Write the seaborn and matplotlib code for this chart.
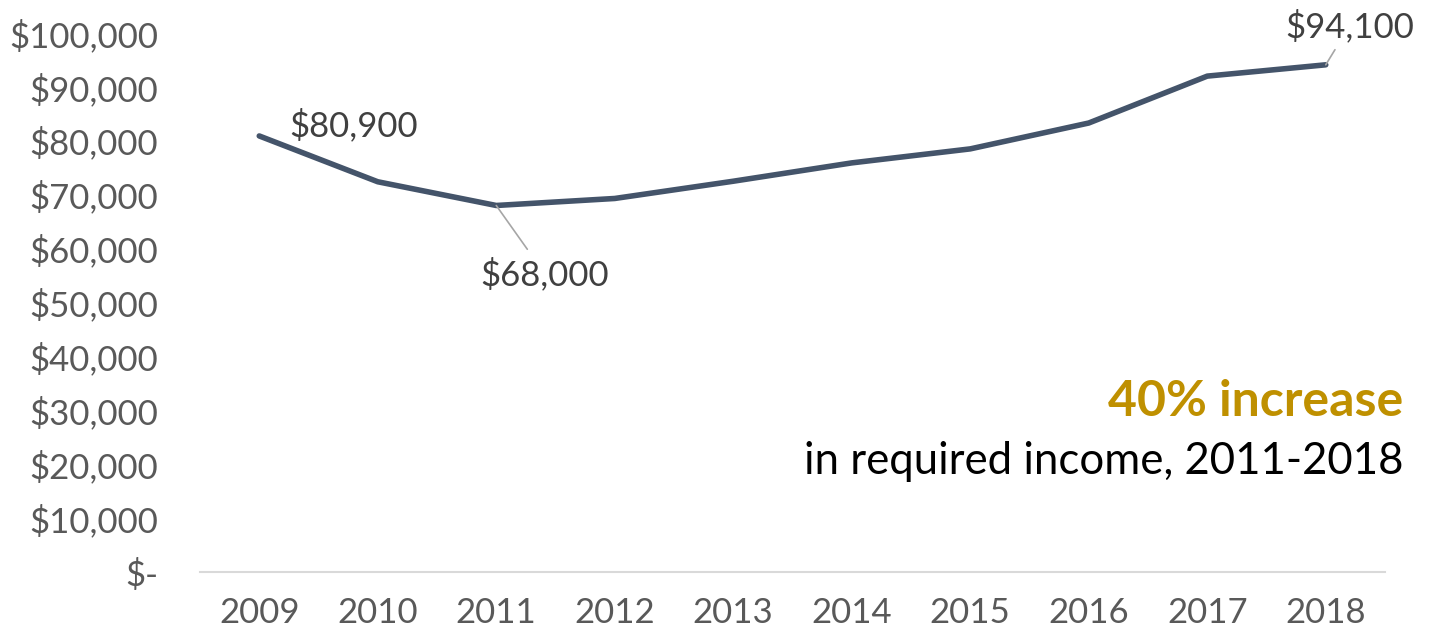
import seaborn as sns
from matplotlib import pyplot as plt
from matplotlib.ticker import FuncFormatter

years = [2009, 2010, 2011, 2012, 2013, 2014, 2015, 2016, 2017, 2018]
required_income = [80900, 72400, 68000, 69300, 72500, 75900, 78500, 83300, 92000, 94100]
y_ticks = [0, 10000, 20000, 30000, 40000, 50000, 60000, 70000, 80000, 90000, 100000]

LINE = '#44546A'
TICK = '#595959'
LABEL = '#404040'
GOLD = '#BF9000'


def money(v, pos=None):
    return '$-' if v == 0 else '${:,.0f}'.format(v)


sns.set_style('white')
plt.rcParams['font.family'] = ['Lato', 'DejaVu Sans']

fig = plt.figure(figsize=(14.32, 6.31), dpi=100)
ax = fig.add_axes([200 / 1432, 59 / 631, 1185 / 1432, 539 / 631])

sns.lineplot(x=years, y=required_income, ax=ax, color=LINE, linewidth=4,
             solid_capstyle='round', clip_on=False)

ax.set_xlim(2008.5, 2018.5)
ax.set_ylim(0, 100000)
ax.set_xticks(years)
ax.set_yticks(y_ticks)
ax.yaxis.set_major_formatter(FuncFormatter(money))
ax.tick_params(axis='both', length=0, labelsize=25, labelcolor=TICK)
ax.tick_params(axis='x', pad=18)
ax.tick_params(axis='y', pad=30)

for s in ['top', 'right', 'left']:
    ax.spines[s].set_visible(False)
ax.spines['bottom'].set_color('#D9D9D9')
ax.spines['bottom'].set_linewidth(1.5)

# data labels
ax.annotate(money(required_income[0]), xy=(years[0], required_income[0]),
            xytext=(2009.25, 82900), fontsize=25, color=LABEL,
            ha='left', va='center')
ax.annotate(money(required_income[2]), xy=(years[2], required_income[2]),
            xytext=(2011.41, 55300), fontsize=25, color=LABEL,
            ha='center', va='center',
            arrowprops=dict(arrowstyle='-', color='#A6A6A6', lw=1.2,
                            shrinkA=4, shrinkB=0))
ax.annotate(money(required_income[-1]), xy=(years[-1], required_income[-1]),
            xytext=(2018.2, 101300), fontsize=25, color=LABEL,
            ha='center', va='center', annotation_clip=False,
            arrowprops=dict(arrowstyle='-', color='#A6A6A6', lw=1.2,
                            shrinkA=3, shrinkB=0))

fig.text(1403 / 1432, 1 - 401 / 631, '40% increase', fontsize=36,
         fontweight='bold', color=GOLD, ha='right', va='center')
fig.text(1403 / 1432, 1 - 462 / 631, 'in required income, 2011-2018',
         fontsize=31.5, color='black', ha='right', va='center')

fig.savefig('out.png', dpi=100)
plt.close(fig)
